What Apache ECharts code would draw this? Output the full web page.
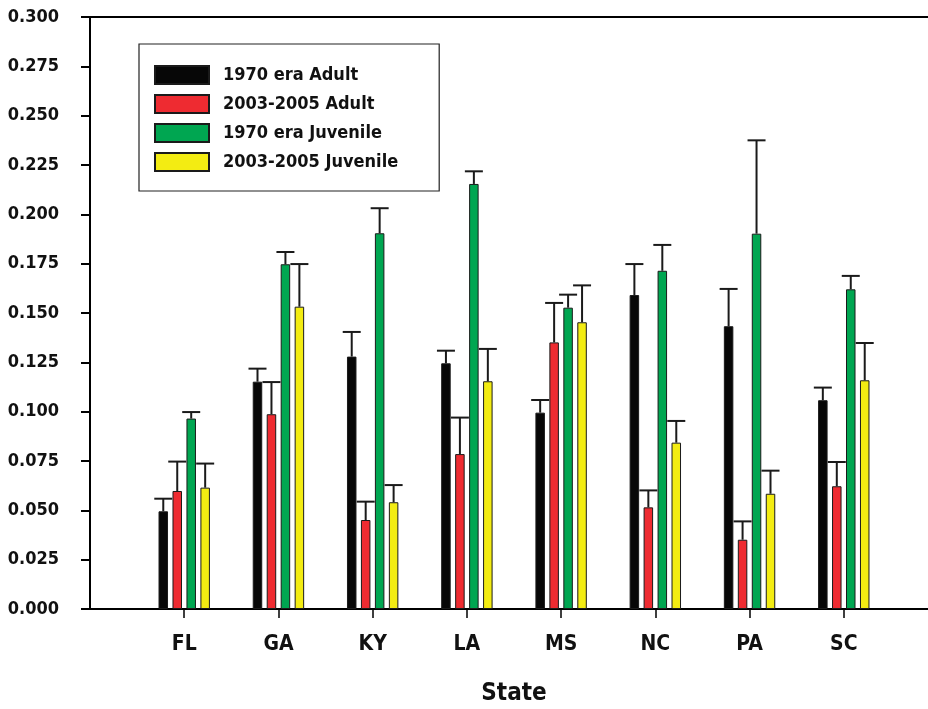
<!DOCTYPE html>
<html>
<head>
<meta charset="utf-8">
<script src="https://cdn.jsdelivr.net/npm/echarts@6/dist/echarts.min.js"></script>
<style>html,body{margin:0;padding:0;background:#fff}#c{width:928px;height:709px}</style>
</head>
<body>
<div id="c"></div>
<script>
const categories = ['FL', 'GA', 'KY', 'LA', 'MS', 'NC', 'PA', 'SC'];
const seriesNames = ['1970 era Adult', '2003-2005 Adult', '1970 era Juvenile', '2003-2005 Juvenile'];
const adult1970 = [0.0495, 0.1152, 0.1279, 0.1245, 0.0995, 0.1591, 0.1433, 0.1058];
const adult2003 = [0.0598, 0.0987, 0.0451, 0.0785, 0.1351, 0.0515, 0.0351, 0.0622];
const juv1970 = [0.0965, 0.1747, 0.1904, 0.2154, 0.1527, 0.1714, 0.1902, 0.1620];
const juv2003 = [0.0615, 0.1532, 0.0541, 0.1154, 0.1453, 0.0843, 0.0584, 0.1159];
// upper error bar ends
const adult1970Err = [0.0559, 0.1218, 0.1404, 0.1309, 0.1059, 0.1748, 0.1622, 0.1122];
const adult2003Err = [0.0747, 0.1150, 0.0544, 0.0970, 0.1551, 0.0601, 0.0444, 0.0745];
const juv1970Err = [0.0998, 0.1809, 0.2031, 0.2218, 0.1593, 0.1845, 0.2375, 0.1688];
const juv2003Err = [0.0737, 0.1748, 0.0628, 0.1318, 0.1640, 0.0953, 0.0701, 0.1348];
const yTicks = [0, 0.025, 0.05, 0.075, 0.1, 0.125, 0.15, 0.175, 0.2, 0.225, 0.25, 0.275, 0.3];

const colors = ['#070707', '#ee2b31', '#00a651', '#f3ec12'];
const values = [adult1970, adult2003, juv1970, juv2003];
const errs = [adult1970Err, adult2003Err, juv1970Err, juv2003Err];

const FONT = '"DejaVu Sans Condensed", "Liberation Sans", sans-serif';
const axisCats = [''].concat(categories, ['']);
const BAR_W = 9.5, BAR_GAP = 0.47, CAP = 18;
const pitch = BAR_W * (1 + BAR_GAP);

const series = [];
values.forEach((vals, i) => {
  series.push({
    name: seriesNames[i], type: 'bar', barWidth: BAR_W, barGap: (BAR_GAP * 100) + '%',
    data: [null].concat(vals, [null]),
    itemStyle: { color: colors[i], borderColor: '#1a1a1a', borderWidth: 1 },
    emphasis: { disabled: true }, z: 2
  });
});
values.forEach((vals, i) => {
  const data = vals.map((v, k) => [k + 1, v, errs[i][k]]);
  series.push({
    type: 'custom', silent: true, z: 3,
    data: data,
    renderItem: function (params, api) {
      const cat = api.value(0);
      const lo = api.coord([cat, api.value(1)]);
      const hi = api.coord([cat, api.value(2)]);
      const x = lo[0] + (i - 1.5) * pitch;
      const st = { stroke: '#1a1a1a', lineWidth: 2 };
      return { type: 'group', children: [
        { type: 'line', shape: { x1: x, y1: lo[1], x2: x, y2: hi[1] }, style: st },
        { type: 'line', shape: { x1: x - CAP / 2, y1: hi[1], x2: x + CAP / 2, y2: hi[1] }, style: st }
      ]};
    }
  });
});

const chart = echarts.init(document.getElementById('c'), null, { renderer: 'canvas' });
chart.setOption({
  animation: false,
  backgroundColor: '#fff',
  textStyle: { fontFamily: FONT },
  grid: { left: 90, width: 848, top: 17, height: 592, containLabel: false, outerBoundsMode: 'none',
    show: true, borderColor: '#000', borderWidth: 2, backgroundColor: 'transparent' },
  legend: {
    data: seriesNames, orient: 'vertical', left: 139, top: 44,
    itemWidth: 54, itemHeight: 18, itemGap: 9,
    padding: [21, 41, 19, 15], borderColor: '#222', borderWidth: 1.2,
    textStyle: { fontFamily: FONT, fontWeight: 'bold', fontSize: 18, color: '#111', padding: [0, 0, 0, 9] },
    icon: 'rect'
  },
  xAxis: {
    type: 'category', data: axisCats, boundaryGap: false,
    axisLine: { lineStyle: { color: '#000', width: 2 } },
    axisTick: { show: true, length: 9, interval: (idx) => idx > 0 && idx < axisCats.length - 1,
      lineStyle: { color: '#000', width: 1.5 } },
    axisLabel: { fontFamily: FONT, fontWeight: 'bold', fontSize: 21, color: '#111', margin: 25 },
    name: 'State', nameLocation: 'middle', nameGap: 73,
    nameTextStyle: { fontFamily: FONT, fontWeight: 'bold', fontSize: 24, color: '#111' }
  },
  yAxis: {
    type: 'value', min: yTicks[0], max: yTicks[yTicks.length - 1], interval: yTicks[1] - yTicks[0],
    splitLine: { show: false },
    axisLine: { show: true, lineStyle: { color: '#000', width: 2 } },
    axisTick: { show: true, length: 9, inside: false, lineStyle: { color: '#000', width: 2 } },
    axisLabel: { fontFamily: FONT, fontWeight: 'bold', fontSize: 18, color: '#111', margin: 31,
      formatter: v => v.toFixed(3) }
  },
  series: series
});
</script>
</body>
</html>
